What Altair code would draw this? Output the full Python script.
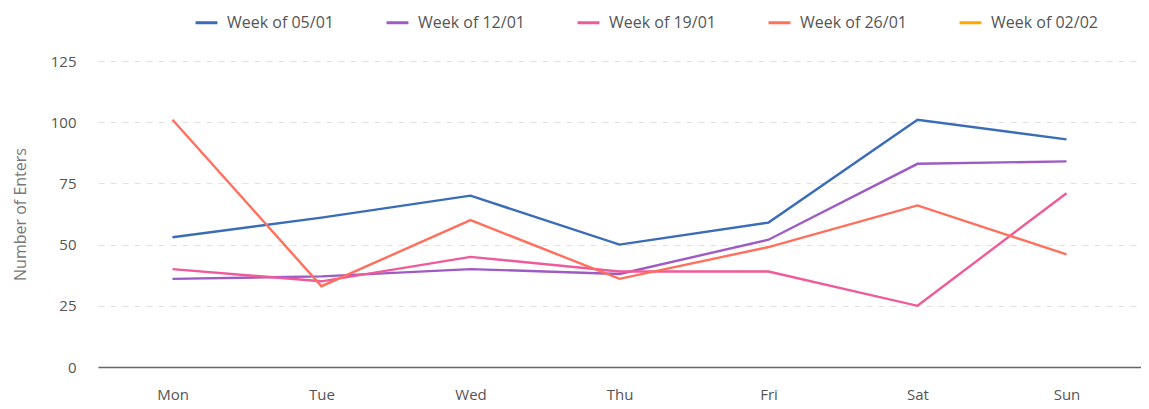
import altair as alt
import pandas as pd

days = ["Mon", "Tue", "Wed", "Thu", "Fri", "Sat", "Sun"]
weeks = ["Week of 05/01", "Week of 12/01", "Week of 19/01", "Week of 26/01", "Week of 02/02"]
colors = ["#3a6cb8", "#9e5bc3", "#ef5a9b", "#ff6f5c", "#ffa600"]

w0501 = [53, 61, 70, 50, 59, 101, 93]
w1201 = [36, 37, 40, 38, 52, 83, 84]
w1901 = [40, 35, 45, 39, 39, 25, 71]
w2601 = [101, 33, 60, 36, 49, 66, 46]
w0202 = []

rows = []
for wk, vals in zip(weeks, [w0501, w1201, w1901, w2601, w0202]):
    for d, v in zip(days, vals):
        rows.append({"day": d, "week": wk, "value": v})
df = pd.DataFrame(rows)

font = "Open Sans"
chart = alt.Chart(df).mark_line(strokeWidth=2.4).encode(
    x=alt.X("day:N", sort=days, scale=alt.Scale(domain=days, paddingOuter=0.5, paddingInner=0),
            type="ordinal",
            axis=alt.Axis(title=None, labelAngle=0, ticks=False, grid=False, domainColor="#666666",
                          domainWidth=1.5, labelPadding=20, labelFontSize=15, labelColor="#555555", labelFont=font)),
    y=alt.Y("value:Q", scale=alt.Scale(domain=[0, 125], nice=False),
            axis=alt.Axis(title="Number of Enters", values=[0, 25, 50, 75, 100, 125], ticks=False, domain=False,
                          gridDash=[6, 6], gridColor="#e3e3e3", labelPadding=22, labelFontSize=15,
                          labelColor="#555555", labelFont=font, titleFont=font, titleFontSize=16,
                          titleFontWeight="normal", titleColor="#777777", titlePadding=22)),
    color=alt.Color("week:N", scale=alt.Scale(domain=weeks, range=colors),
                    legend=alt.Legend(title=None, orient="none", legendX=96, legendY=-51, direction="horizontal",
                                      symbolType="stroke", symbolStrokeWidth=3, symbolSize=480,
                                      labelFontSize=16, labelColor="#555555", labelFont=font,
                                      columns=5, gridAlign="all",
                                      columnPadding=46, labelOffset=8)),
).properties(
    width=1043, height=306,
    padding={"left": 90, "top": 53, "right": 0, "bottom": 40},
    autosize=alt.AutoSizeParams(type="none"),
).configure_view(stroke=None)

chart.save("out.html", embed_options={"renderer": "svg", "actions": False})
